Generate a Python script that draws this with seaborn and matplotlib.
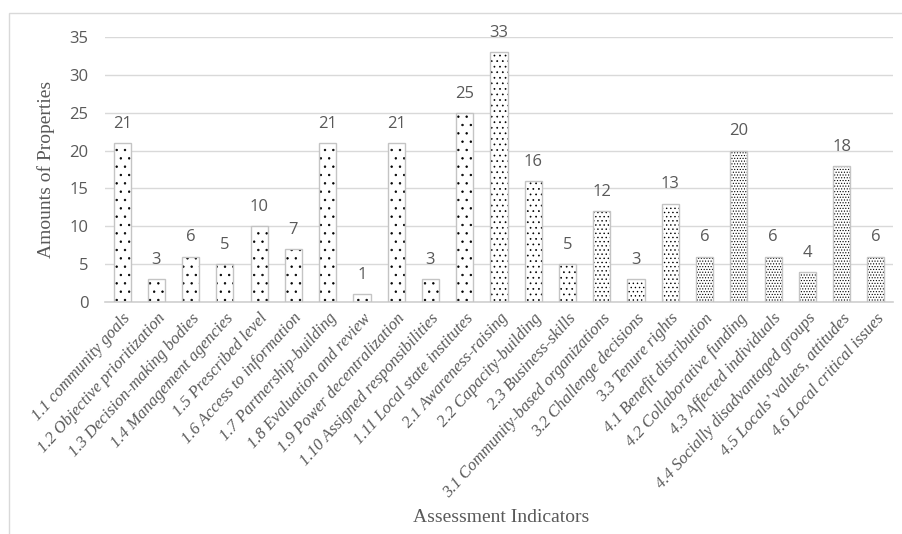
import matplotlib
matplotlib.use("Agg")
import matplotlib.pyplot as plt
import pandas as pd
import seaborn as sns
from matplotlib.patches import Rectangle

indicators = [
    "1.1 community goals", "1.2 Objective prioritization", "1.3 Decision-making bodies",
    "1.4 Management agencies", "1.5 Prescribed level", "1.6 Access to information",
    "1.7 Partnership-building", "1.8 Evaluation and review", "1.9 Power decentralization",
    "1.10 Assigned responsibilities", "1.11 Local state institutes", "2.1 Awareness-raising",
    "2.2 Capacity-building", "2.3 Business-skills", "3.1 Community-based organizations",
    "3.2 Challenge decisions", "3.3 Tenure rights", "4.1 Benefit distribution",
    "4.2 Collaborative funding", "4.3 Affected individuals", "4.4 Socially disadvantaged groups",
    "4.5 Locals\u2019 values, attitudes", "4.6 Local critical issues",
]
amounts = [21, 3, 6, 5, 10, 7, 21, 1, 21, 3, 25, 33, 16, 5, 12, 3, 13, 6, 20, 6, 4, 18, 6]
y_ticks = [0, 5, 10, 15, 20, 25, 30, 35]

# dot pattern gets denser for each indicator group
group_hatch = {"1": "..", "2": "...", "3": "....", "4": "......"}

df = pd.DataFrame({"indicator": indicators, "amount": amounts})

grey = "#595959"
plt.rcParams["hatch.linewidth"] = 0.5

fig = plt.figure(figsize=(9.03, 5.34), dpi=100)
ax = fig.add_axes([0.1163, 0.4345, 0.8726, 0.4963])

# hatched fill (hatch colour follows edge colour, so draw edges separately)
sns.barplot(data=df, x="indicator", y="amount", color="white", edgecolor="black",
            linewidth=0, width=0.5, saturation=1, ax=ax, zorder=2)
for patch, name in zip(ax.patches, indicators):
    patch.set_hatch(group_hatch[name[0]])

# light grey outlines
sns.barplot(data=df, x="indicator", y="amount", color="#c4c4c4", fill=False,
            linewidth=1.0, width=0.5, saturation=1, ax=ax, zorder=3)

for i, v in enumerate(amounts):
    ax.annotate(str(v), (i, v), xytext=(0, 8), textcoords="offset points",
                ha="center", va="bottom", fontsize=12, color=grey, family="Open Sans")

ax.set_ylim(0, 35)
ax.set_xlim(-0.5, len(indicators) - 0.5)
ax.set_yticks(y_ticks)
ax.set_yticklabels([str(t) for t in y_ticks], fontsize=12, color=grey, family="Open Sans")
ax.yaxis.grid(True, color="#d9d9d9", linewidth=1.0, zorder=0)
ax.set_axisbelow(True)
for s in ["top", "right", "left"]:
    ax.spines[s].set_visible(False)
ax.spines["bottom"].set_color("#d0d0d0")
ax.spines["bottom"].set_linewidth(1.2)
ax.tick_params(axis="both", length=0)
ax.tick_params(axis="y", pad=12)

ax.set_xticks(range(len(indicators)))
ax.set_xticklabels(indicators, rotation=48, ha="right", rotation_mode="anchor",
                   fontsize=12, color=grey, family="Liberation Serif", style="italic")
ax.tick_params(axis="x", pad=6)

ax.set_ylabel("Amounts of Properties", fontsize=14, color=grey, family="Liberation Serif")
ax.yaxis.set_label_coords(-0.064, 0.5)
ax.set_xlabel("")
fig.text(0.555, 0.03, "Assessment Indicators", ha="center", va="center",
         fontsize=14, color=grey, family="Liberation Serif")

# chart frame
fig.patches.append(Rectangle((9 / 903, -0.1), 1.2, 1.1 - 13 / 534, transform=fig.transFigure,
                             fill=False, edgecolor="#d9d9d9", linewidth=1.0, zorder=0))

fig.savefig("out.png", dpi=100)
